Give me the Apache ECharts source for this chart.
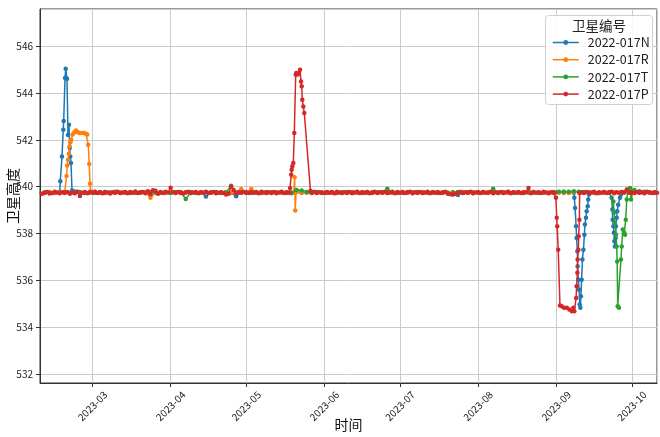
<!DOCTYPE html>
<html><head><meta charset="utf-8">
<script src="https://cdn.jsdelivr.net/npm/echarts@6/dist/echarts.min.js"></script>
<style>html,body{margin:0;padding:0;background:#fff}#c{width:660px;height:437px}</style>
</head><body><div id="c"></div>
<script>
// ---------------- data ----------------
const seriesNames = ['2022-017N', '2022-017R', '2022-017T', '2022-017P'];
const monthTicks = ['2023-03', '2023-04', '2023-05', '2023-06', '2023-07', '2023-08', '2023-09', '2023-10'];
const startDate = [2023, 1, 8];          // 2023-02-08, day offsets below count from here
const axisStartOffset = 0.17;            // x-axis starts ~2023-02-08 04:00
const axisEnd = [2023, 9, 11];           // 2023-10-11

// 2022-017P (red): daily baseline, Feb 8 .. Oct 11 (null = inside a manoeuvre, see events)
const redBase = [
  // Feb 8-28
  539.73,539.70,539.74,539.77,539.71,539.73,539.78,539.75,539.72,539.76,539.73,539.77,539.70,539.75,539.72,539.78,539.60,539.74,539.77,539.72,539.76,
  // Mar
  539.74,539.78,539.73,539.76,539.72,539.77,539.75,539.71,539.76,539.74,
  539.78,539.73,539.75,539.77,539.72,539.76,539.74,539.79,539.73,539.75,
  539.77,539.72,539.80,539.68,539.85,539.82,539.70,539.76,539.73,539.78,539.75,
  // Apr
  539.95,539.76,539.73,539.77,539.74,539.71,539.76,539.78,539.73,539.75,
  539.77,539.72,539.76,539.74,539.78,539.73,539.75,539.77,539.72,539.74,
  539.76,539.73,539.66,539.70,540.00,539.86,539.72,539.76,539.74,539.77,
  // May
  539.75,539.73,539.77,539.74,539.76,539.72,539.78,539.75,539.73,539.76,
  539.74,539.77,539.72,539.75,539.78,539.73,539.76,539.74,null,null,
  null,null,null,null,null,null,539.74,539.77,539.73,539.76,539.75,
  // Jun
  539.73,539.77,539.74,539.76,539.72,539.78,539.75,539.73,539.76,539.74,
  539.77,539.72,539.75,539.78,539.73,539.76,539.74,539.77,539.72,539.75,
  539.78,539.73,539.76,539.74,539.77,539.73,539.75,539.78,539.72,539.76,
  // Jul
  539.74,539.77,539.73,539.75,539.78,539.72,539.76,539.74,539.77,539.73,
  539.75,539.78,539.72,539.76,539.74,539.77,539.73,539.75,539.78,539.72,
  539.68,539.66,539.70,539.74,539.77,539.73,539.76,539.74,539.78,539.72,539.75,
  // Aug
  539.76,539.73,539.77,539.74,539.75,539.78,539.72,539.76,539.74,539.77,
  539.73,539.75,539.78,539.72,539.76,539.74,539.77,539.73,539.75,539.76,
  539.94,539.72,539.77,539.74,539.76,539.73,539.78,539.75,539.72,539.76,539.74,
  // Sep
  null,null,null,null,null,null,null,null,null,null,
  539.76,539.73,539.77,539.74,539.75,539.78,539.72,539.76,539.74,539.77,
  539.73,539.75,539.78,539.72,539.76,539.74,539.77,539.75,539.88,539.74,
  // Oct 1-11
  539.75,539.73,539.77,539.74,539.76,539.72,539.78,539.75,539.73,539.76,539.74
];
// red manoeuvres: [day offset, altitude]
const redMay = [[99.4,539.94],[99.85,540.51],[100.05,540.72],[100.29,540.87],[100.68,541.01],[101.08,542.29],
  [101.63,544.78],[101.87,544.85],[102.43,544.78],[102.94,544.85],[103.34,544.99],[103.74,544.49],[104.02,544.28],
  [104.25,543.71],[104.65,543.42],[105.05,543.14],[107.5,539.82]];
const redSep = [[204.5,539.75],[204.9,539.52],[205.2,538.67],[205.4,538.31],[205.8,537.31],[206.5,534.93],[207.2,534.90],
  [208.1,534.83],[209.2,534.83],[210.2,534.76],[211.2,534.68],[211.8,534.83],[212.2,534.68],[212.9,535.25],[213.1,535.75],
  [213.4,536.32],[213.5,536.89],[213.8,537.31],[213.9,537.88],[214.2,538.59],[214.3,539.73]];

// 2022-017N (blue): baseline every 2 days from Feb 8
const blueBase = [
  539.76,539.74,539.77,539.73,539.78,null,null,539.79,539.75,539.73,
  539.76,539.74,539.77,539.73,539.75,539.78,539.74,539.76,539.73,539.77,
  539.75,539.74,539.76,539.73,539.77,539.75,539.74,539.76,539.73,539.75,
  539.77,539.74,539.76,539.58,539.75,539.77,539.74,539.76,539.73,539.59,
  539.75,539.77,539.74,539.76,539.73,539.77,539.75,539.74,539.76,539.73,
  539.75,539.77,539.74,539.76,539.73,539.77,539.75,539.74,539.76,539.73,
  539.75,539.77,539.74,539.76,539.73,539.77,539.75,539.74,539.76,539.73,
  539.75,539.77,539.74,539.76,539.73,539.77,539.75,539.74,539.76,539.73,
  539.75,539.70,539.68,539.64,539.74,539.76,539.73,539.77,539.75,539.74,
  539.76,539.73,539.75,539.77,539.74,539.76,539.73,539.77,539.75,539.74,
  539.76,539.73,539.75,539.77,539.74,539.76,539.74,null,null,null,
  539.76,539.73,539.77,539.75,null,null,539.76,539.74,539.77,539.75,
  539.74,539.76,539.73
];
const blueFeb = [[8.22,540.23],[8.9,541.29],[9.41,542.43],[9.57,542.80],[10.1,544.64],[10.37,545.03],[10.88,544.60],
  [11.28,542.20],[11.67,542.64],[11.95,541.65],[12.19,541.29],[12.47,541.01],[12.87,539.84]];
const blueSepA = [[212.2,539.52],[212.5,539.09],[212.9,538.31],[213.1,537.81],[213.4,537.24],[213.5,536.60],[213.8,536.03],
  [214.1,535.60],[214.3,534.97],[214.6,534.83],[214.8,535.32],[215.1,536.03],[215.4,536.89],[215.8,537.31],[216.2,537.95],
  [216.4,538.38],[216.8,538.67],[217.1,538.95],[217.5,539.16],[217.7,539.45],[218.0,539.66]];
const blueSepB = [[227.0,539.52],[227.3,539.02],[227.4,538.59],[227.7,538.31],[227.9,538.03],[228.1,537.67],[228.3,537.45],
  [228.6,537.81],[228.7,538.31],[229.0,538.67],[229.2,538.95],[229.6,539.23],[230.3,539.52],[230.7,539.66]];

// 2022-017R (orange): baseline every 2 days from Feb 8
const orangeBase = [
  539.75,539.73,539.77,539.74,539.76,539.78,null,null,null,null,
  null,539.78,539.74,539.76,539.73,539.77,539.75,539.74,539.76,539.73,
  539.75,539.77,539.52,539.74,539.76,539.73,539.77,539.75,539.74,539.76,
  539.73,539.75,539.77,539.74,539.76,539.73,539.75,539.77,539.74,539.76,
  539.90,539.75,539.90,539.74,539.76,539.73,539.77,539.75,539.74,539.76,
  539.73,539.77,539.75,539.74,539.76,539.73,539.75,539.77,539.74,539.76,
  539.73,539.75,539.77,539.74,539.76,539.73,539.77,539.75,539.74,539.76,
  539.73,539.75,539.77,539.74,539.76,539.73,539.77,539.75,539.74,539.76,
  539.73,539.75,539.77,539.74,539.76,539.73,539.77,539.75,539.74,539.76,
  539.73,539.75,539.77,539.74,539.76,539.73,539.77,539.75,539.74,539.76,
  539.73,539.75,539.77,539.74,539.76,539.73,539.77,539.75,539.74,539.76,
  539.73,539.75,539.77,539.74,539.76,539.73,539.77,539.75,539.74,539.76,
  539.73,539.75,539.77
];
const orangeFeb = [[10.7,540.45],[10.95,540.90],[11.3,541.15],[11.6,541.40],[11.9,541.72],[12.2,541.89],[12.55,542.00],
  [13.1,542.22],[13.8,542.32],[14.5,542.39],[15.1,542.32],[15.8,542.29],[16.7,542.29],[17.6,542.29],[18.4,542.26],
  [18.9,542.22],[19.3,541.79],[19.7,540.97],[20.0,540.12],[20.3,539.80]];
const orangeMay = [[100.9,539.76],[101.2,540.40],[101.45,538.98],[101.8,539.78]];

// 2022-017T (green): baseline every 2 days from Feb 8
const greenBase = [
  539.72,539.75,539.73,539.77,539.74,539.76,539.73,539.75,539.77,539.74,
  539.76,539.73,539.75,539.77,539.74,539.76,539.73,539.75,539.77,539.74,
  539.76,539.73,539.75,539.77,539.74,539.76,539.73,539.75,539.77,539.47,
  539.76,539.73,539.75,539.77,539.74,539.76,539.73,539.75,540.04,539.74,
  539.76,539.73,539.75,539.77,539.74,539.76,539.73,539.75,539.77,539.74,
  539.72,539.86,539.84,539.77,539.74,539.76,539.73,539.75,539.77,539.74,
  539.76,539.73,539.75,539.77,539.74,539.76,539.73,539.75,539.77,539.91,
  539.76,539.73,539.75,539.77,539.74,539.76,539.73,539.75,539.77,539.74,
  539.76,539.73,539.75,539.77,539.74,539.76,539.73,539.75,539.77,539.74,
  539.91,539.73,539.75,539.77,539.74,539.76,539.73,539.75,539.77,539.74,
  539.76,539.73,539.75,539.78,539.79,539.78,539.80,539.78,539.77,539.74,
  539.76,539.73,539.75,539.77,null,null,null,null,539.86,539.80,
  539.78,539.76,539.75
];
const greenSep = [[227.7,539.37],[227.9,538.88],[228.3,538.45],[228.7,537.95],[229.0,537.45],[229.2,536.81],[229.4,534.90],
  [229.9,534.83],[230.7,536.89],[231.0,537.45],[231.4,538.17],[232.0,538.03],[232.3,537.95],[232.6,538.59],[233.0,539.45],
  [233.4,539.87],[234.3,539.94],[234.7,539.45],[235.3,539.80]];

// ---------------- build ----------------
const DAY = 86400000;
const t0 = new Date(startDate[0], startDate[1], startDate[2]).getTime();
function build(base, step, events) {
  const pts = [];
  base.forEach((v, i) => { if (v !== null) pts.push([i * step, v]); });
  events.forEach(ev => ev.forEach(p => pts.push(p)));
  pts.sort((a, b) => a[0] - b[0]);
  return pts.map(p => [t0 + p[0] * DAY, p[1]]);
}
const seriesData = [
  build(blueBase, 2, [blueFeb, blueSepA, blueSepB]),
  build(orangeBase, 2, [orangeFeb, orangeMay]),
  build(greenBase, 2, [greenSep]),
  build(redBase, 1, [redMay, redSep])
];
const colors = ['#1f77b4', '#ff7f0e', '#2ca02c', '#d62728'];
const FONT = '"Noto Sans CJK SC", "DejaVu Sans", sans-serif';
function fmtMonth(v) {
  const d = new Date(v);
  const s = d.getFullYear() + '-' + String(d.getMonth() + 1).padStart(2, '0');
  return monthTicks.indexOf(s) >= 0 && d.getDate() === 1 ? s : '';
}

const chart = echarts.init(document.getElementById('c'), null, { renderer: 'canvas' });
chart.setOption({
  animation: false,
  backgroundColor: '#fff',
  textStyle: { fontFamily: FONT },
  grid: { left: 40, right: 3, top: 9, bottom: 54, outerBoundsMode: 'none', containLabel: false,
    show: true, borderColor: '#333', borderWidth: 1, backgroundColor: 'transparent' },
  xAxis: {
    type: 'time',
    min: t0 + axisStartOffset * DAY,
    max: new Date(axisEnd[0], axisEnd[1], axisEnd[2]).getTime(),
    name: '时间', nameLocation: 'middle', nameGap: 35, nameMoveOverlap: false,
    nameTextStyle: { fontSize: 14, color: '#111', fontFamily: FONT },
    splitNumber: 8, minInterval: 28 * DAY, maxInterval: 31 * DAY,
    axisLine: { show: true, lineStyle: { color: '#333' } },
    axisTick: { show: true, length: 4, lineStyle: { color: '#333' } },
    axisLabel: {
      rotate: 45, align: 'center', verticalAlign: 'middle', margin: 23,
      fontSize: 10, color: '#222', fontFamily: FONT,
      formatter: fmtMonth
    },
    splitLine: { show: true, lineStyle: { color: '#cbcbcb', width: 1 } }
  },
  yAxis: {
    type: 'value', min: 531.62, max: 547.58, splitNumber: 8,
    name: '卫星高度', nameLocation: 'middle', nameGap: 20, nameRotate: 90, nameMoveOverlap: false,
    nameTextStyle: { fontSize: 14, color: '#111', fontFamily: FONT },
    axisLine: { show: true, lineStyle: { color: '#333' } },
    axisTick: { show: true, length: 4, lineStyle: { color: '#333' } },
    axisLabel: { showMinLabel: false, showMaxLabel: false, fontSize: 10, color: '#222', margin: 7, fontFamily: FONT,
      formatter: v => (Math.abs(v - Math.round(v)) < 1e-6 ? String(Math.round(v)) : '') },
    splitLine: { show: true, lineStyle: { color: '#cbcbcb', width: 1 } }
  },
  legend: {
    data: seriesNames, orient: 'vertical', left: 552, top: 36, padding: 0,
    itemWidth: 26, itemHeight: 6, itemGap: 4.2,
    lineStyle: { width: 1.5 },
    textStyle: { fontSize: 12.5, color: '#222', fontFamily: FONT, padding: [0, 0, 0, 4], lineHeight: 13 }, z: 10
  },
  graphic: [
    { type: 'rect', z: 5, shape: { x: 545.5, y: 15.5, width: 107, height: 89, r: 3 },
      style: { fill: 'rgba(255,255,255,0.85)', stroke: '#d0d0d0', lineWidth: 1 } },
    { type: 'text', z: 11, x: 599, y: 26,
      style: { text: '卫星编号', font: '13.5px "Noto Sans CJK SC"', fill: '#222', align: 'center', verticalAlign: 'middle' } }
  ],
  series: seriesNames.map((name, i) => ({
    name, type: 'line', data: seriesData[i], color: colors[i],
    symbol: 'circle', symbolSize: 4.5, showSymbol: true, showAllSymbol: true,
    lineStyle: { width: 1.5, color: colors[i] }, itemStyle: { color: colors[i] },
    emphasis: { disabled: true }, z: 2 + i * 0.01
  }))
});
</script></body></html>
